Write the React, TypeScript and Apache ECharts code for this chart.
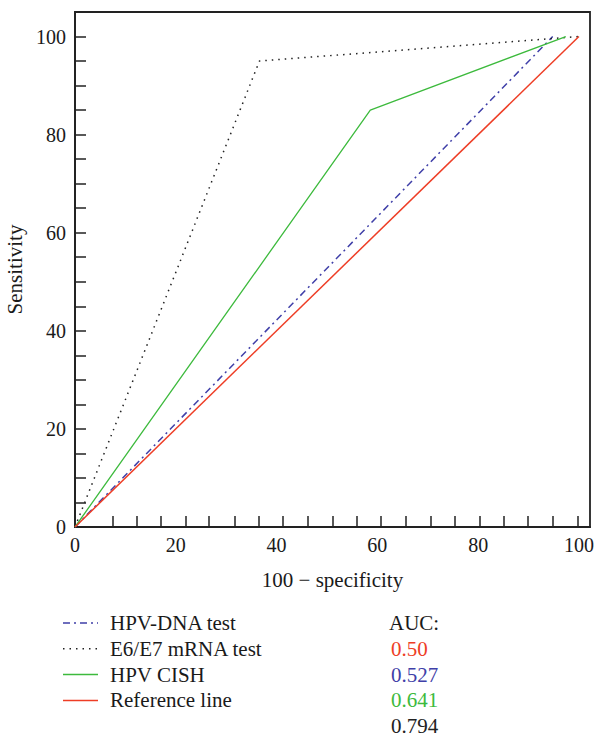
import React, { useEffect, useRef } from 'react';
import * as echarts from 'echarts';

const seriesNames = ['HPV-DNA test', 'E6/E7 mRNA test', 'HPV CISH', 'Reference line'];
const hpvDnaX = [0, 94.8];
const hpvDnaY = [0, 100];
const mrnaX = [0, 36.6, 100];
const mrnaY = [0, 95, 100];
const cishX = [0, 58.6, 97.4];
const cishY = [0, 85, 100];
const refX = [0, 100];
const refY = [0, 100];
const aucTitle = 'AUC:';
const aucValues = ['0.50', '0.527', '0.641', '0.794'];
const xLabelValues = [0, 20, 40, 60, 80, 100];
const yLabelValues = [0, 20, 40, 60, 80, 100];
const xTickValues = [7.4, 12.3, 17.1, 22.0, 26.6, 31.7, 36.5, 41.3, 46.2, 51.1, 55.9, 60.7, 65.7, 70.5, 75.3, 80.3, 85.1, 89.9, 94.8, 99.7];
const yTickValues = [0, 5, 10, 15, 20, 25, 30, 35, 40, 45, 50, 55, 60, 65, 70, 75, 80, 85, 90, 95, 100];

const BLUE = '#3f3fa8';
const BLACK = '#222222';
const GREEN = '#3dba3d';
const RED = '#ee3d25';
const FONT = 'Liberation Serif';
const seriesColors = [BLUE, BLACK, GREEN, RED];
const aucColors = [RED, BLUE, GREEN, BLACK];
const seriesDash: (number[] | null)[] = [[7, 4, 2, 4], [1.5, 5], null, null];

const zip = (xs: number[], ys: number[]) => xs.map((x, i) => [x, ys[i]]);

export default function App() {
  const ref = useRef<HTMLDivElement>(null);
  useEffect(() => {
    if (!ref.current) return;
    const chart = echarts.init(ref.current, undefined, { renderer: 'svg' });
    const xy = [zip(hpvDnaX, hpvDnaY), zip(mrnaX, mrnaY), zip(cishX, cishY), zip(refX, refY)];
    const legendTop = 623;
    const rowGap = 25.8;
    const textStyle = { fontFamily: FONT, fontSize: 21, lineHeight: 20, verticalAlign: 'middle' };
    const graphic: any[] = [];
    seriesNames.forEach((n, i) => {
      const y = legendTop + i * rowGap;
      graphic.push({
        type: 'line',
        shape: { x1: 63, y1: y, x2: 98, y2: y },
        style: { stroke: seriesColors[i], lineWidth: 1.5, lineDash: seriesDash[i] || undefined },
      });
      graphic.push({
        type: 'text',
        x: 110,
        y,
        style: { ...textStyle, text: n, fill: '#1a1a1a' },
      });
    });
    graphic.push({
      type: 'text',
      x: 389,
      y: legendTop,
      style: { ...textStyle, text: aucTitle, fill: '#1a1a1a' },
    });
    aucValues.forEach((v, i) => {
      graphic.push({
        type: 'text',
        x: 391,
        y: legendTop + (i + 1) * rowGap,
        style: { ...textStyle, text: v, fill: aucColors[i] },
      });
    });

    chart.setOption({
      animation: false,
      grid: {
        left: 75, right: 9, top: 12, bottom: 211,
        outerBoundsMode: 'none',
        containLabel: false,
        show: true, borderColor: '#222', borderWidth: 1.8, backgroundColor: 'transparent',
      },
      xAxis: {
        type: 'value', min: 0, max: 102.2, interval: 20,
        name: '100 − specificity', nameLocation: 'middle', nameGap: 42,
        nameTextStyle: { fontFamily: FONT, fontSize: 21, color: '#1a1a1a' },
        axisLine: { onZero: false, lineStyle: { color: '#222', width: 1.8 } },
        axisTick: { inside: true, length: 11, customValues: xTickValues, lineStyle: { color: '#222', width: 1.5 } },
        axisLabel: { customValues: xLabelValues, fontFamily: FONT, fontSize: 20, color: '#1a1a1a', margin: 8 },
        splitLine: { show: false },
      },
      yAxis: {
        type: 'value', min: 0, max: 105, interval: 20,
        name: 'Sensitivity', nameLocation: 'middle', nameGap: 47,
        nameTextStyle: { fontFamily: FONT, fontSize: 21, color: '#1a1a1a' },
        axisLine: { onZero: false, lineStyle: { color: '#222', width: 1.8 } },
        axisTick: { inside: true, length: 11, customValues: yTickValues, lineStyle: { color: '#222', width: 1.5 } },
        axisLabel: { customValues: yLabelValues, fontFamily: FONT, fontSize: 20, color: '#1a1a1a', margin: 9 },
        splitLine: { show: false },
      },
      series: seriesNames.map((n, i) => ({
        name: n,
        type: 'line',
        data: xy[i],
        symbol: 'none',
        silent: true,
        z: 2 + i,
        lineStyle: {
          color: seriesColors[i],
          width: i === 2 ? 1.3 : 1.5,
          type: seriesDash[i] || 'solid',
        },
      })),
      graphic,
    });
    return () => chart.dispose();
  }, []);
  return <div ref={ref} style={{ position: 'absolute', left: 0, top: 0, width: 599, height: 738 }} />;
}
